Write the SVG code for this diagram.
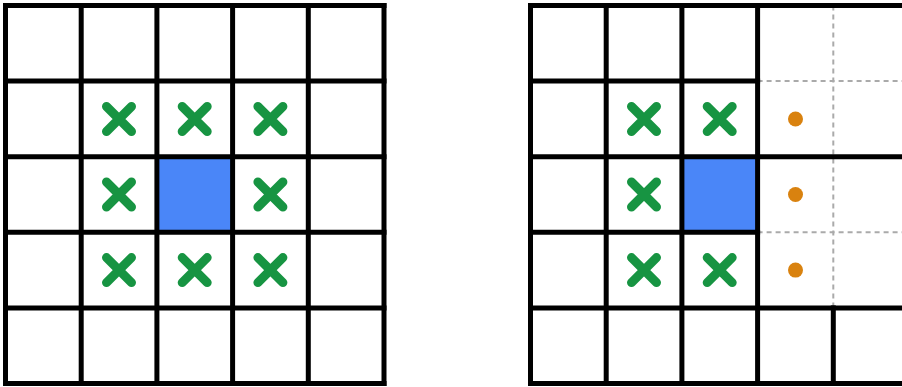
<svg xmlns="http://www.w3.org/2000/svg" width="902" height="387" viewBox="0 0 902 387">
<style>
.g{stroke:#000;stroke-width:5;stroke-linecap:square;fill:none}
.d{stroke:#aaa;stroke-width:2;stroke-dasharray:5 4;fill:none}
.x{stroke:#179442;stroke-width:9;stroke-linecap:round;fill:none}
.b{fill:#4a86f8}
.o{fill:#d9820f}
</style>
<defs>
<path id="xm" class="x" d="M-12.5,-12.5L12.5,12.5M12.5,-12.5L-12.5,12.5"/>
</defs>
<rect width="902" height="387" fill="#fff"/>
<g id="left-grid">
<rect class="b" x="156.9" y="156.7" width="75.7" height="75.6"/>
<g class="g">
<line x1="5.5" y1="5.5" x2="5.5" y2="383.5"/>
<line x1="81.2" y1="5.5" x2="81.2" y2="383.5"/>
<line x1="156.9" y1="5.5" x2="156.9" y2="383.5"/>
<line x1="232.6" y1="5.5" x2="232.6" y2="383.5"/>
<line x1="308.3" y1="5.5" x2="308.3" y2="383.5"/>
<line x1="384" y1="5.5" x2="384" y2="383.5"/>
<line x1="5.5" y1="5.5" x2="384" y2="5.5"/>
<line x1="5.5" y1="81.1" x2="384" y2="81.1"/>
<line x1="5.5" y1="156.7" x2="384" y2="156.7"/>
<line x1="5.5" y1="232.3" x2="384" y2="232.3"/>
<line x1="5.5" y1="307.9" x2="384" y2="307.9"/>
<line x1="5.5" y1="383.5" x2="384" y2="383.5"/>
</g>
<use href="#xm" x="119" y="119"/>
<use href="#xm" x="194.7" y="119"/>
<use href="#xm" x="270.4" y="119"/>
<use href="#xm" x="119" y="194.5"/>
<use href="#xm" x="270.4" y="194.5"/>
<use href="#xm" x="119" y="270.1"/>
<use href="#xm" x="194.7" y="270.1"/>
<use href="#xm" x="270.4" y="270.1"/>
</g>
<g id="right-grid">
<rect class="b" x="681.9" y="156.7" width="75.7" height="75.6"/>
<g class="d">
<line x1="833.3" y1="5.5" x2="833.3" y2="307.9"/>
<line x1="757.6" y1="81.1" x2="902" y2="81.1"/>
<line x1="757.6" y1="232.3" x2="902" y2="232.3"/>
</g>
<g class="g">
<line x1="530.5" y1="5.5" x2="530.5" y2="383.5"/>
<line x1="606.2" y1="5.5" x2="606.2" y2="383.5"/>
<line x1="681.9" y1="5.5" x2="681.9" y2="383.5"/>
<line x1="757.6" y1="5.5" x2="757.6" y2="383.5"/>
<line x1="833.3" y1="307.9" x2="833.3" y2="383.5"/>
<line x1="530.5" y1="5.5" x2="905" y2="5.5"/>
<line x1="530.5" y1="81.1" x2="757.6" y2="81.1"/>
<line x1="530.5" y1="156.7" x2="905" y2="156.7"/>
<line x1="530.5" y1="232.3" x2="757.6" y2="232.3"/>
<line x1="530.5" y1="307.9" x2="905" y2="307.9"/>
<line x1="530.5" y1="383.5" x2="905" y2="383.5"/>
</g>
<use href="#xm" x="644" y="119"/>
<use href="#xm" x="719.7" y="119"/>
<use href="#xm" x="644" y="194.5"/>
<use href="#xm" x="644" y="270.1"/>
<use href="#xm" x="719.7" y="270.1"/>
<circle class="o" cx="795.5" cy="119" r="7.5"/>
<circle class="o" cx="795.5" cy="194.5" r="7.5"/>
<circle class="o" cx="795.5" cy="270.1" r="7.5"/>
</g>
</svg>
